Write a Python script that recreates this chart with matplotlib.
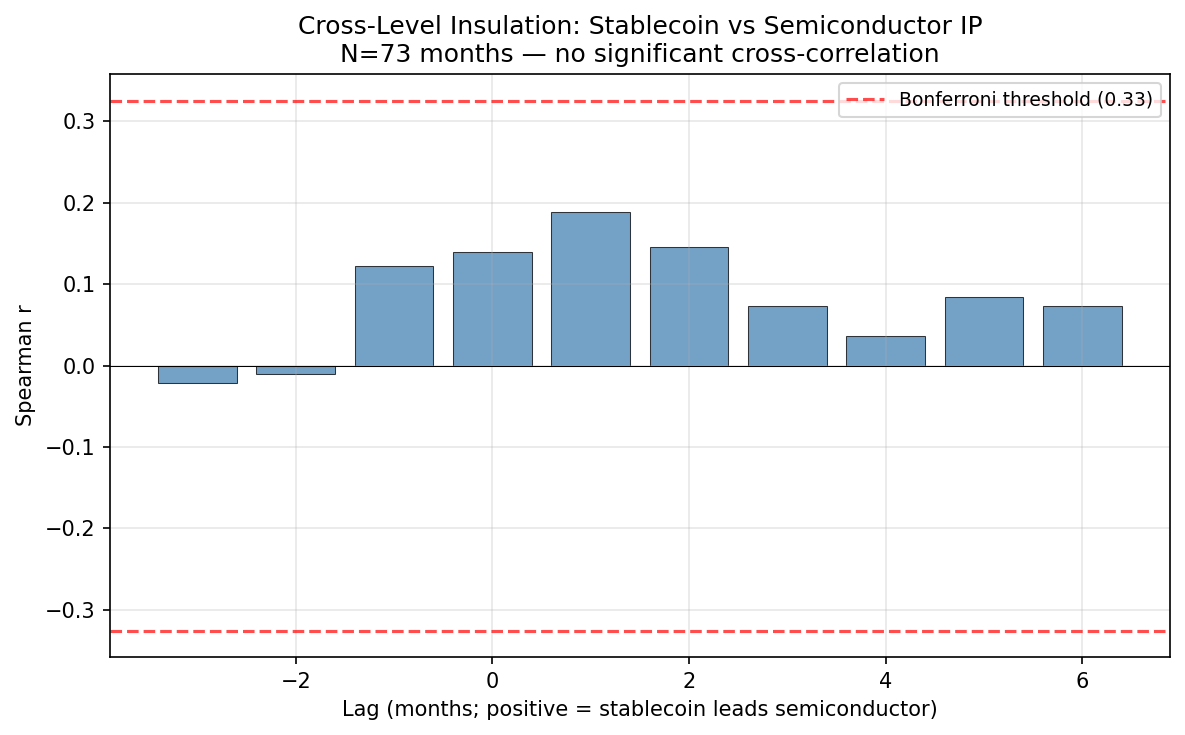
import numpy as np
import matplotlib
matplotlib.use("Agg")
import matplotlib.pyplot as plt

# 滞后(月) 与 Spearman 相关系数
lags = [-3, -2, -1, 0, 1, 2, 3, 4, 5, 6]
rho = [-0.022, -0.011, 0.122, 0.140, 0.189, 0.146, 0.073, 0.036, 0.084, 0.073]
threshold = 0.3255

fig, ax = plt.subplots(figsize=(7.9, 4.9), dpi=150)
ax.bar(lags, rho, width=0.8, color='steelblue', alpha=0.75,
       edgecolor='black', linewidth=0.5)
ax.axhline(threshold, color='red', linestyle='--', alpha=0.7,
           label='Bonferroni threshold (0.33)')
ax.axhline(-threshold, color='red', linestyle='--', alpha=0.7)
ax.axhline(0, color='black', linewidth=0.5)

ax.set_xlabel('Lag (months; positive = stablecoin leads semiconductor)')
ax.set_ylabel('Spearman r')
ax.set_title('Cross-Level Insulation: Stablecoin vs Semiconductor IP\n'
             'N=73 months \u2014 no significant cross-correlation')
ax.legend(loc='upper right', fontsize=9)
ax.grid(True, alpha=0.3)

fig.subplots_adjust(left=0.0928, right=0.9873, top=0.8993, bottom=0.1061)
plt.savefig('out.png', dpi=150)
